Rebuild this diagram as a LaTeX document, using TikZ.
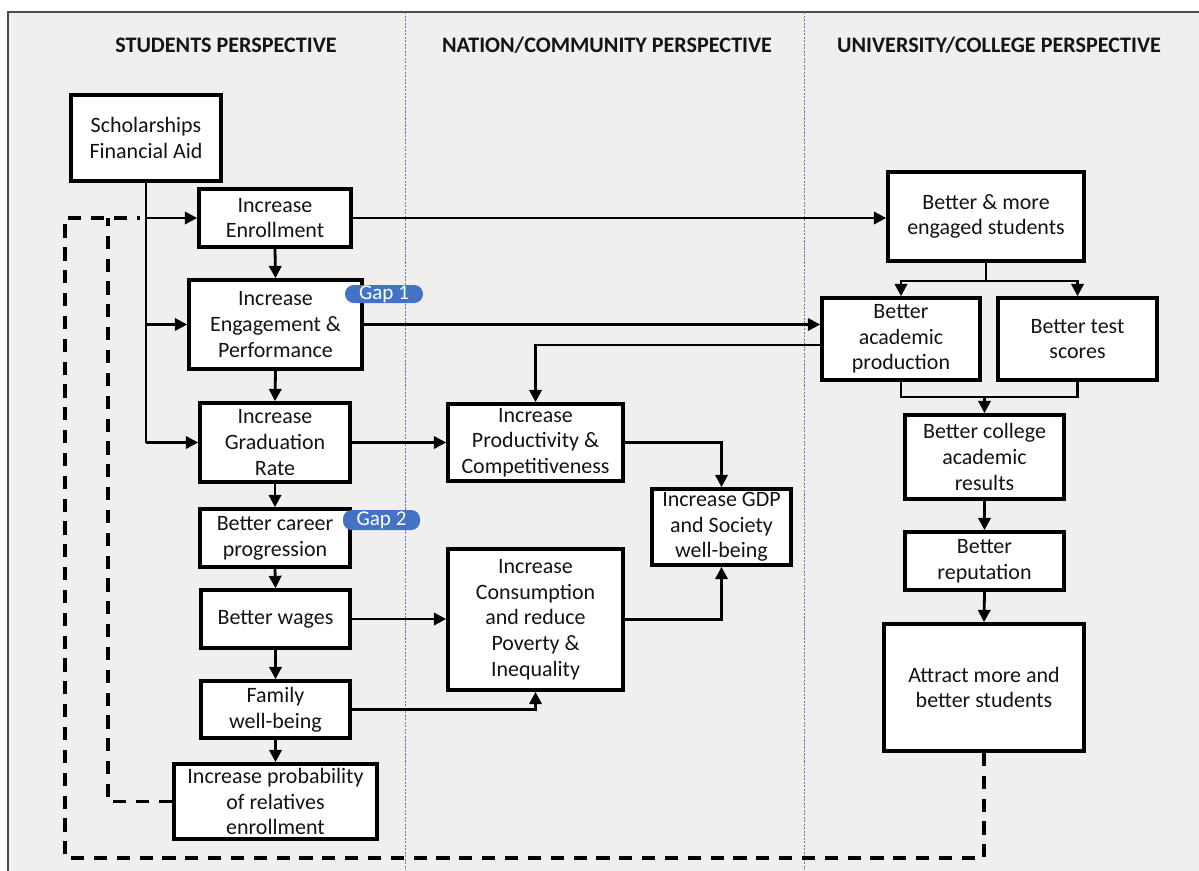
\documentclass[tikz,border=0pt]{standalone}
\usepackage{fontspec}
\setmainfont{Carlito}
\usetikzlibrary{arrows.meta,calc}
\definecolor{bgray}{HTML}{F0EFEE}
\definecolor{gapblue}{HTML}{4472C4}
\definecolor{divblue}{HTML}{5B7BBE}
\tikzset{
  box/.style={draw=black, line width=2.1pt, fill=white, align=center, inner sep=0pt,
    font=\fontsize{12.5}{14.6}\selectfont, text=black!92},
  conn/.style={line width=1.6pt, -{Triangle[length=7pt,width=7pt]}},
  plain/.style={line width=1.6pt},
  loopline/.style={line width=2pt, dash pattern=on 7.5pt off 5.5pt},
  gap/.style={fill=gapblue, rounded corners=5pt, text=white, inner sep=0pt,
    font=\fontsize{12}{13}\selectfont},
  title/.style={font=\bfseries\fontsize{12.6}{14}\selectfont, text=black!92},
  divider/.style={draw=divblue, line width=0.5pt, dash pattern=on 1.2pt off 0.8pt}
}
\newcommand\bx[6]{\node[box, minimum width={(#4-#2)*0.02cm}, minimum height={(#5-#3)*0.02cm}] (#1) at ({(#2+#4)/2},{(#3+#5)/2}) {#6};}
\begin{document}
\begin{tikzpicture}[x=0.02cm,y=-0.02cm]
\useasboundingbox (0,0) rectangle (1199,870);
% background frame
\fill[bgray] (8,12) rectangle (1205,875);
\draw[black!70, line width=0.8pt] (8,875) -- (8,12) -- (1205,12);
\draw[divider] (405,12) -- (405,870);
\draw[divider] (804,12) -- (804,870);
% titles
\node[title] (t1) at (226,45) {STUDENTS PERSPECTIVE};
\node[title] (t2) at (607,45) {NATION/COMMUNITY PERSPECTIVE};
\node[title] (t3) at (999,45) {UNIVERSITY/COLLEGE PERSPECTIVE};
% students column
\bx{schol}{71}{95}{221}{181}{Scholarships\\Financial Aid}
\bx{enroll}{199}{189}{351}{247}{Increase\\Enrollment}
\bx{engage}{189}{280}{362}{369}{Increase\\Engagement \&\\Performance}
\bx{grad}{200}{403}{350}{482}{Increase\\Graduation\\Rate}
\bx{career}{200}{509}{350}{567}{Better career\\progression}
\bx{wages}{201}{590}{350}{648}{Better wages}
\bx{family}{201}{681}{350}{738}{Family\\well-being}
\bx{prob}{174}{764}{377}{839}{Increase probability\\of relatives\\enrollment}
% nation column
\bx{prod}{448}{404}{623}{481}{Increase\\Productivity \&\\Competitiveness}
\bx{gdp}{652}{489}{791}{565}{Increase GDP\\and Society\\well-being}
\bx{cons}{448}{549}{623}{690}{Increase\\Consumption\\and reduce\\Poverty \&\\Inequality}
% university column
\bx{engaged}{888}{172}{1084}{261}{Better \& more\\engaged students}
\bx{acad}{822}{298}{980}{380}{Better\\academic\\production}
\bx{test}{998}{298}{1157}{380}{Better test\\scores}
\bx{res}{905}{415}{1064}{499}{Better college\\academic\\results}
\bx{rep}{905}{532}{1064}{590}{Better\\reputation}
\bx{attract}{884}{624}{1084}{751}{Attract more and\\better students}
% gap labels
\node[gap, minimum width={78*0.02cm}, minimum height={18*0.02cm}] (gap1) at (384,294) {Gap 1};
\node[gap, minimum width={77*0.02cm}, minimum height={20*0.02cm}] (gap2) at (381.5,520) {Gap 2};
% feed from scholarships
\draw[plain] (schol.south) -- (schol.south |- grad.west);
\draw[conn] (schol.south |- enroll.west) -- (enroll.west);
\draw[conn] (schol.south |- engage.west) -- (engage.west);
\draw[conn] (schol.south |- grad.west) -- (grad.west);
% student chain
\draw[conn] (enroll.south) -- (engage.north);
\draw[conn] (engage.south) -- (grad.north);
\draw[conn] (grad.south) -- (career.north);
\draw[conn] (career.south) -- (wages.north);
\draw[conn] (wages.south) -- (family.north);
\draw[conn] (family.south) -- (prob.north);
% cross connections
\draw[conn] (enroll.east) -- (enroll.east -| engaged.west);
\draw[conn] (engage.east) -- (engage.east -| acad.west);
\draw[conn] ($(acad.west)+(0,6)$) -| (prod.north);
\draw[conn] (grad.east) -- (grad.east -| prod.west);
\draw[conn] (wages.east) -- (wages.east -| cons.west);
\draw[conn] (family.east) -| (cons.south);
\draw[conn] (prod.east) -| (gdp.north);
\draw[conn] (cons.east) -| (gdp.south);
% university chain
\coordinate (split) at (engaged.south |- 0,281);
\draw[plain] (engaged.south) -- (split);
\draw[conn] (split) -| (acad.north);
\draw[conn] (split) -| (test.north);
\coordinate (merge) at (res.north |- 0,397);
\draw[plain] (acad.south) |- (merge);
\draw[plain] (test.south) |- (merge);
\draw[conn] (merge) -- (res.north);
\draw[conn] (res.south) -- (rep.north);
\draw[conn] (rep.south) -- (attract.north);
% feedback loops
\coordinate (loopTop) at (140,218);
\coordinate (outerTL) at (65,218);
\coordinate (outerBL) at (65,858);
\coordinate (innerTL) at (108,218);
\draw[loopline] (attract.south) |- (outerBL) -- (outerTL) -- (loopTop);
\draw[loopline] (prob.west) -| (innerTL);
\end{tikzpicture}
\end{document}
